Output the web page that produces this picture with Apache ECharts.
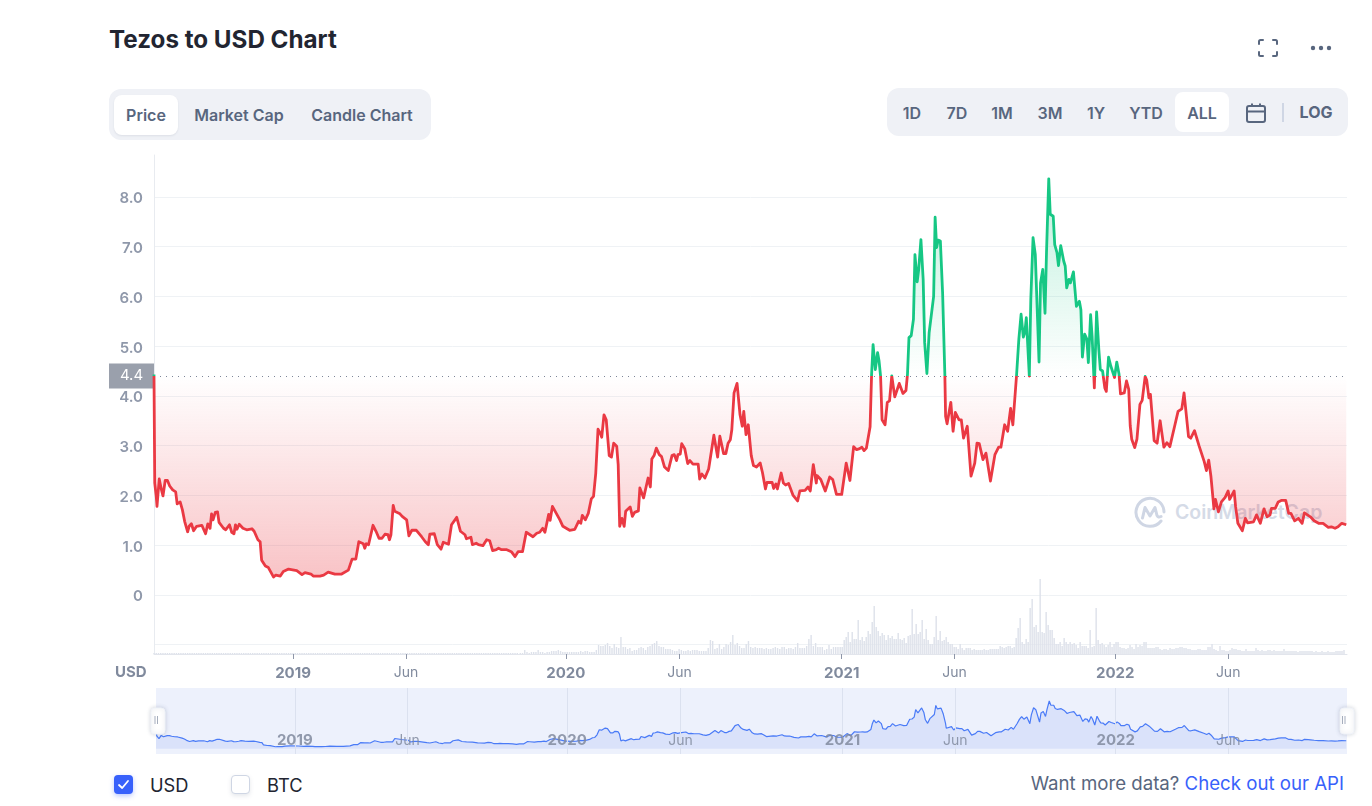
<!DOCTYPE html>
<html>
<head>
<meta charset="utf-8">
<script src="https://cdn.jsdelivr.net/npm/echarts@6/dist/echarts.min.js"></script>
<style>
html,body{margin:0;padding:0;background:#fff;width:1372px;height:806px;overflow:hidden;font-family:Inter,sans-serif;color:#58667e}
.a{position:absolute}
#chart{position:absolute;left:0;top:0;width:1372px;height:806px;z-index:2}
.title{left:109px;top:25px;font-size:24.200px;font-weight:700;line-height:30px;color:#222531;white-space:nowrap}
.panel{background:#eff1f6;border-radius:12px}
.btn{font-size:16px;font-weight:600;line-height:20px;transform:translateX(-50%);white-space:nowrap;color:#58667e}
.on{background:#fff;border-radius:8px;box-shadow:0 1px 2px rgba(88,102,126,.12)}
.lg{font-size:18.300px;line-height:22px;color:#222531;white-space:nowrap}
.box{width:19px;height:19px;border-radius:4px;box-sizing:border-box}
</style>
</head>
<body>
<div class="a title">Tezos to USD Chart</div>

<div class="a panel" style="left:109px;top:89px;width:322px;height:51px"></div>
<div class="a on" style="left:114px;top:95px;width:64px;height:40px"></div>
<div class="a btn" style="left:146px;top:105px">Price</div>
<div class="a btn" style="left:239px;top:105px">Market Cap</div>
<div class="a btn" style="left:362px;top:105px">Candle Chart</div>

<div class="a panel" style="left:887px;top:88px;width:461px;height:48px"></div>
<div class="a on" style="left:1175px;top:92px;width:54px;height:40px;box-shadow:none"></div>
<div class="a btn" style="left:912px;top:103px">1D</div>
<div class="a btn" style="left:957px;top:103px">7D</div>
<div class="a btn" style="left:1002px;top:103px">1M</div>
<div class="a btn" style="left:1050px;top:103px">3M</div>
<div class="a btn" style="left:1096px;top:103px">1Y</div>
<div class="a btn" style="left:1146px;top:103px">YTD</div>
<div class="a btn" style="left:1202px;top:103px">ALL</div>
<svg class="a" style="left:1245px;top:102px" width="22" height="22" viewBox="0 0 22 22" fill="none" stroke="#58667e" stroke-width="2">
<rect x="2" y="4" width="18" height="16" rx="2"/><path d="M2 9.5H20M7 1.5V5M15 1.5V5"/></svg>
<div class="a" style="left:1282px;top:103px;width:2px;height:19px;background:#cfd6e4"></div>
<div class="a btn" style="left:1316px;top:102px;font-weight:700">LOG</div>

<svg class="a" style="left:1257px;top:38px" width="22" height="20" viewBox="0 0 22 20" fill="none" stroke="#58667e" stroke-width="2" stroke-linecap="round">
<path d="M2 6V3.5A1.5 1.5 0 0 1 3.500 2H6M16 2H18.500A1.500 1.500 0 0 1 20 3.500V6M20 14V16.500A1.500 1.500 0 0 1 18.500 18H16M6 18H3.500A1.500 1.500 0 0 1 2 16.500V14"/></svg>
<svg class="a" style="left:1310px;top:44px" width="22" height="8" viewBox="0 0 22 8" fill="#58667e">
<circle cx="3" cy="4" r="2.200"/><circle cx="11" cy="4" r="2.200"/><circle cx="19" cy="4" r="2.200"/></svg>

<!-- watermark sits under the transparent chart canvas -->
<svg class="a" style="left:1134px;top:496px;z-index:1" width="32" height="32" viewBox="0 0 32 32" fill="none" stroke="#cfd6e4" stroke-width="3" stroke-linecap="round" stroke-linejoin="round">
<path d="M27 25A14 14 0 1 1 30 16"/><path d="M8.500 22L11 11.500L16 20L21 11.500L23 19.500Q24 22 27 20.500"/></svg>
<div class="a" style="left:1175px;top:499px;z-index:1;font-size:19.500px;line-height:26px;font-weight:600;color:#d5dbe7;white-space:nowrap">CoinMarketCap</div>

<div id="chart"></div>

<div class="a box" style="left:114px;top:775px;background:#3861fb;box-shadow:0 2px 5px rgba(56,97,251,.35);z-index:3">
<svg width="19" height="19" viewBox="0 0 19 19" fill="none" stroke="#fff" stroke-width="1.800" stroke-linecap="round" stroke-linejoin="round"><path d="M5 10L8.200 13L14 6"/></svg></div>
<div class="a lg" style="left:150px;top:774px">USD</div>
<div class="a box" style="left:231px;top:775px;background:#fff;border:1px solid #cfd6e4;box-shadow:0 2px 4px rgba(88,102,126,.15)"></div>
<div class="a lg" style="left:267px;top:774px">BTC</div>
<div class="a lg" style="right:28px;top:772px;color:#58667e;font-size:18.650px">Want more data? <span style="color:#3861fb">Check out our API</span></div>

<script>
// ---------- data ----------
const startDate = '2018-06-29';
const endDay = 1596;
const currentPrice = 4.4;
const yTickValues = [-1, 0, 1, 2, 3, 4, 5, 6, 7, 8];
const yLabelValues = [0, 1, 2, 3, 4, 5, 6, 7, 8];
const tickDates = ['2019-01-01','2019-06-01','2020-01-01','2020-06-01','2021-01-04','2021-06-04','2022-01-05','2022-06-05'];
const tickLabels = ['2019','Jun','2020','Jun','2021','Jun','2022','Jun'];

// days since startDate
const priceDays = [
0,1,3,4,7,10,12,15,18,21,25,29,31,35,38,41,45,47,50,53,57,64,69,72,75,77,79,82,85,87,93,96,101,104,107,109,111,114,119,124,131,134,139,142,144,149,153,160,163,169,173,180,191,198,202,210,213,222,227,233,242,251,260,265,270,274,280,282,284,287,293,297,301,305,309,313,315,317,320,322,329,332,338,341,345,351,358,363,367,369,375,379,384,387,394,398,405,410,416,418,424,426,431,434,436,440,445,449,453,458,461,465,472,478,483,487,493,498,501,507,512,516,520,523,528,530,533,
543,547,556,563,568,571,573,577,581,585,588,591,594,597,599,602,605,609,612,615,619,621,623,626,629,631,637,640,643,648,650,655,661,664,666,669,672,676,679,683,688,693,696,699,701,704,706,710,714,717,721,728,730,733,737,742,744,749,754,757,762,765,768,771,773,776,780,784,787,789,792,795,797,799,802,806,811,814,818,820,827,829,832,834,839,842,845,849,851,855,857,861,864,871,875,878,882,886,887,892,898,904,908,913,920,926,928,931,936,940,944,947,950,953,958,
960,962,965,968,970,972,974,978,981,984,987,991,997,1002,1006,1008,1010,1013,1016,1018,1021,1023,1026,1029,1031,1034,1037,1043,1045,1047,1049,1052,1055,1058,
1059,1061,1066,1069,1072,1077,1080,1083,1088,1093,1098,1101,1104,1109,1113,1119,1125,1130,1133,1138,1142,1146,1149,
1154,1157,1160,1163,1165,1167,1171,1173,1176,1179,1184,1186,1189,1192,1194,1197,1199,1203,1205,1208,1210,1213,1217,1219,1221,1224,1226,1230,1232,1234,1238,1240,1242,1245,1248,1250,1253,1255,1258,1261,1264,1266,1269,1272,1274,1277,1280,1285,1288,1291,1293,
1298,1301,1304,1306,1308,1312,1315,1319,1322,1326,1328,1331,1333,1338,1342,1346,1351,1355,1359,1366,1370,1375,1378,1384,1387,1392,1398,1400,1405,1408,1411,1414,1418,1420,1424,1428,1433,1437,1439,1445,1447,1450,1452,1456,1460,1463,1471,1475,1480,1485,1489,1493,1495,1500,1504,1508,1514,1518,1521,1526,1531,1536,1539,1544,1547,1552,1558,1564,1571,1575,1580,1584,1589,1595
];
const priceValues = [
4.43,2.25,1.98,1.78,2.33,2.11,1.99,2.30,2.30,2.19,2.11,2.07,1.83,1.87,1.71,1.48,1.27,1.38,1.43,1.29,1.38,1.40,1.23,1.43,1.34,1.63,1.51,1.66,1.67,1.46,1.34,1.31,1.41,1.26,1.23,1.41,1.32,1.42,1.34,1.31,1.33,1.28,1.11,1.07,0.70,0.58,0.55,0.36,0.40,0.38,0.47,0.52,0.49,0.41,0.45,0.42,0.38,0.38,0.40,0.46,0.42,0.42,0.50,0.72,0.72,1.07,1.03,0.94,1.03,1.01,1.40,1.28,1.14,1.14,1.22,1.21,1.11,1.21,1.80,1.68,1.63,1.58,1.51,1.19,1.30,1.30,1.17,1.07,1.01,1.22,1.23,1.01,0.92,1.06,1.02,1.41,1.56,1.28,1.21,1.13,1.16,1.01,1.04,1.01,1.04,0.99,1.11,1.09,0.89,0.91,0.94,0.91,0.91,0.87,0.77,0.87,0.87,1.26,1.23,1.17,1.24,1.26,1.34,1.26,1.62,1.50,1.78,
1.51,1.38,1.30,1.32,1.48,1.44,1.60,1.51,1.64,1.93,1.98,2.45,3.33,3.25,3.17,3.62,3.52,2.80,2.77,3.05,2.99,2.62,1.38,1.54,1.38,1.68,1.77,1.58,1.66,1.69,2.15,1.95,2.35,2.17,2.73,2.80,2.95,2.82,2.78,2.57,2.50,2.80,2.82,2.70,2.82,2.83,3.04,2.94,2.64,2.70,2.63,2.63,2.33,2.43,2.35,2.53,2.55,3.21,2.77,3.19,2.84,2.84,3.05,3.12,3.32,4.06,4.25,3.62,3.39,3.69,3.22,3.42,3.46,2.80,2.60,2.57,2.65,2.46,2.13,2.26,2.26,2.14,2.23,2.13,2.45,2.25,2.21,2.24,2.16,2.00,1.98,1.89,2.09,2.10,2.17,2.09,2.62,2.25,2.40,2.32,2.09,2.37,2.32,2.02,2.02,2.65,2.62,2.30,2.98,2.92,2.94,2.97,2.90,2.95,3.38,
4.43,5.03,4.53,4.87,4.70,4.40,3.52,3.42,3.87,3.90,4.40,3.98,4.25,4.05,4.11,4.43,5.17,5.21,5.54,6.84,6.29,6.54,7.14,6.34,5.07,4.45,5.27,6.00,7.59,6.98,7.13,7.11,6.07,4.43,
3.59,3.44,3.87,3.29,3.67,3.52,3.52,3.15,3.39,2.39,2.65,3.05,3.04,2.72,2.85,2.29,2.82,2.97,2.97,3.42,3.29,3.75,3.42,
4.43,5.14,5.64,5.18,5.27,5.57,4.40,5.94,7.18,6.84,4.68,6.27,6.54,5.66,6.88,8.36,7.65,7.61,7.04,6.88,6.62,7.02,6.71,6.61,6.17,6.34,6.27,6.49,6.49,5.80,5.90,5.73,4.78,5.24,5.14,4.67,5.63,5.20,4.16,5.69,4.93,4.53,4.50,4.16,4.09,4.78,4.60,4.37,4.68,4.44,4.04,
4.06,4.30,4.13,3.40,3.13,2.96,3.13,3.83,3.91,4.39,4.32,3.96,4.03,3.10,3.05,3.50,2.97,3.06,2.98,3.43,3.69,3.74,4.06,3.18,3.15,3.30,3.00,2.98,2.68,2.50,2.71,2.38,1.73,1.92,1.67,1.87,1.96,2.09,1.92,2.09,1.77,1.44,1.39,1.29,1.54,1.45,1.47,1.61,1.44,1.73,1.57,1.61,1.74,1.74,1.87,1.90,1.90,1.64,1.64,1.49,1.54,1.44,1.65,1.60,1.57,1.49,1.44,1.44,1.36,1.37,1.34,1.37,1.44,1.41
];

// volume, in chart-scale units; each run gives its first day, its spacing in days, and its bars
const volumeEarly = [
1,1,1,1,1,1,1,1,1,1,1,1,1,1,1,1,1,1,1,1,1,1,1,1,1,1,1,1,1,1,1,1,1,1,1,1,1,1,1,1,
1,1,1,1,1,1,1,1,1,1,1,1,1,1,1,1,1,1,1,1,1,1,1,1,1,1,1,1,1,1,1,1,1,1,1,1,1,1,1,1,
1,1,1,1,1,1,1,1,1,1,1,1,1,1,1,1,1,1,1,1,1,1,1,1,1,1,1,1,1,1,1,1,1,1,1,1,1,1,1,1,
1,1,1,1,1,1,1,1,1,1,1,1,1,1,1,1,1,1,1,1,1,1,1,1,1,1,1,1,1,1,1,1,1,1,1,1,1,1,1,1,1,1,1];
const volumeMiddle = [
1,1,4,2,1,2,2,2,4,2,2,1,2,2,3,3,3,4,3,2,2,2,2,2,2,2,2,3,2,3,3,2,2,2,4,
9,8,8,9,11,8,6,10,7,6,17,7,7,5,6,3,4,4,6,7,6,4,7,8,10,11,13,8,7,7,5,5,5,4,3,3,5,4,3,3,4,3,4,4,4,3,3,3,3,6,14,13,5,6,10,5,7,10,9,12,19,9,11,8,6,6,10,13,7,6,7,6,6,6,5,6,5,5,6,7,6,5,7,7,5,6,6,5,7,11,6,6,6,8,15,19,8,11,7,7,7,4,5,9,5,7,7,7];
const volumePeak = [
7,7,14,17,22,12,22,15,15,34,14,17,13,17,23,20,32,48,27,23,18,21,19,14,19,16,18,15,15,21,15,14,16,11,18,19,45,20,30,20,22,34,15,25,14,10,10,17,38,14,23,13,14,17,12,10,10,7,7,5,10,6,4,6,6,6,4,5,4,4,4,4,5,4,4,5,5,5,5,5,8,7,6,7,8,8,6,7,16,26,36,12,10,15,12,46,55,27,29,22,75,22,21,42,29,24,24,16,10,10,12,8,16,12,10,12,10,11,9,6,12,8,8,8,6,24,7,8,46,14,10,11,9,7,9];
const volumeLate = [
12,7,10,12,12,7,6,6,5,6,9,7,5,10,7,9,8,12,12,6,6,6,6,7,7,5,4,5,5,4,6,5,5,6,6,7,7,6,6,5,5,4,4,4,5,5,4,4,4,7,7,10,5,4,3,8,4,4,3,3,4,6,5,5,4,4,3,3,5,3,3,3,3,6,4,3,4,3,3,4,4,3,4,3,3,3,3,5,3,3,3,3,3,3,2,3,3,3,3,3,3,3,2,3,2,2,3,2,2,3,2,2,2,3,3,3,3,4];
const volumeRuns = [
 {start: 0, step: 3, bars: volumeEarly},
 {start: 490, step: 2.993, bars: volumeMiddle},
 {start: 918, step: 2.675, bars: volumePeak},
 {start: 1279, step: 2.675, bars: volumeLate}
];

// ---------- styles ----------
const DAY = 86400000;
const t0 = Date.parse(startDate + 'T00:00:00Z');
const font = 'Inter';
const tickTimes = tickDates.map(d => Date.parse(d + 'T00:00:00Z'));
const priceSeries = priceDays.map((d, i) => [t0 + d * DAY, priceValues[i]]);
const volumeSeries = volumeRuns.flatMap(r => r.bars.map((v, i) => [t0 + (r.start + i * r.step) * DAY, v]));
const pMax = Math.max(...priceValues), pMin = Math.min(...priceValues);
const split = (pMax - currentPrice) / (pMax - pMin);

const labelFmt = v => {
  const i = tickTimes.indexOf(v);
  if (i < 0) return '';
  return tickLabels[i] === 'Jun' ? '{m|Jun}' : '{y|' + tickLabels[i] + '}';
};
const labelRich = a => ({
  y: {fontFamily: font, fontSize: 15, fontWeight: 700, color: 'rgba(128,138,157,' + a + ')'},
  m: {fontFamily: font, fontSize: 14, fontWeight: 400, color: 'rgba(128,138,157,' + a + ')'}
});

const option = {
  animation: false,
  useUTC: true,
  backgroundColor: 'transparent',
  grid: [
    {left: 154, top: 155, width: 1193, height: 499, show: false},
    {left: 156, top: 688, width: 1191, height: 66, show: true, backgroundColor: '#edf1fc', borderWidth: 0}
  ],
  xAxis: [
    {type: 'value', gridIndex: 0, min: t0, max: t0 + endDay * DAY, scale: true,
     axisLine: {show: true, onZero: false, lineStyle: {color: '#e2e5ec', width: 1}},
     axisTick: {show: true, length: 5, customValues: tickTimes, lineStyle: {color: '#8e96a8', width: 1}},
     splitLine: {show: false},
     axisLabel: {customValues: tickTimes, formatter: labelFmt, rich: labelRich(1), margin: 12, hideOverlap: false}},
    {type: 'value', gridIndex: 1, min: t0, max: t0 + endDay * DAY, scale: true, z: 10,
     axisLine: {show: false, onZero: false},
     axisTick: {show: false, customValues: tickTimes},
     splitLine: {show: true, lineStyle: {color: '#dbe1ef', width: 1}},
     axisLabel: {inside: true, customValues: tickTimes, formatter: labelFmt, rich: labelRich(0.85), margin: 6, hideOverlap: false}}
  ],
  yAxis: [
    {type: 'value', gridIndex: 0, min: -1.186, max: 8.84,
     axisLine: {show: true, onZero: false, lineStyle: {color: '#e8ebf0', width: 1}},
     axisTick: {show: false, customValues: yTickValues},
     splitLine: {show: true, lineStyle: {color: '#eff2f5', width: 1}},
     axisLabel: {customValues: yLabelValues, margin: 11, fontFamily: font, fontSize: 15, fontWeight: 600, color: '#8f98aa', verticalAlign: 'top', lineHeight: 4,
                 formatter: v => v === 0 ? '0' : v.toFixed(1)}},
    {type: 'value', gridIndex: 0, min: 0, max: 499, show: false, splitLine: {show: false}},
    {type: 'value', gridIndex: 1, min: -0.91, max: 10.63, show: false, splitLine: {show: false}}
  ],
  visualMap: {
    show: false, type: 'piecewise', seriesIndex: 0, dimension: 1,
    pieces: [{gte: -10, lte: currentPrice, color: '#ea3943'}, {gt: currentPrice, lte: 20, color: '#16c784'}]
  },
  dataZoom: [{
    type: 'slider', xAxisIndex: 0, left: 156, width: 1191, top: 688, height: 66,
    start: 0, end: 100, showDetail: false, showDataShadow: false, brushSelect: false,
    moveHandleSize: 0, backgroundColor: 'transparent', fillerColor: 'transparent', borderColor: 'transparent',
    handleIcon: 'path://M4 0H10A4 4 0 0 1 14 4V22A4 4 0 0 1 10 26H4A4 4 0 0 1 0 22V4A4 4 0 0 1 4 0Z',
    handleSize: 26,
    handleStyle: {color: '#fff', borderColor: '#f0f3f9', borderWidth: 1, shadowBlur: 4, shadowColor: 'rgba(88,102,126,.25)'},
    z: 20
  }],
  graphic: [
    {type: 'text', left: 115, top: 665, style: {text: 'USD', fontFamily: font, fontSize: 15, fontWeight: 700, fill: '#808a9d'}, silent: true},
    {type: 'rect', x: 154.5, y: 716, shape: {width: 1, height: 8}, style: {fill: '#a6aebd'}, z: 30, zlevel: 1, silent: true},
    {type: 'rect', x: 157, y: 716, shape: {width: 1, height: 8}, style: {fill: '#a6aebd'}, z: 30, zlevel: 1, silent: true},
    {type: 'rect', x: 1342, y: 716, shape: {width: 1, height: 8}, style: {fill: '#a6aebd'}, z: 30, zlevel: 1, silent: true},
    {type: 'rect', x: 1344.5, y: 716, shape: {width: 1, height: 8}, style: {fill: '#a6aebd'}, z: 30, zlevel: 1, silent: true}
  ],
  series: [
    {type: 'line', name: 'Price', xAxisIndex: 0, yAxisIndex: 0, data: priceSeries, symbol: 'none', showSymbol: false,
     lineStyle: {width: 2.8, join: 'round'}, z: 5,
     areaStyle: {
       origin: currentPrice, opacity: 1,
       color: {type: 'linear', x: 0, y: 0, x2: 0, y2: 1, colorStops: [
         {offset: 0, color: 'rgba(22,199,132,0.28)'},
         {offset: split, color: 'rgba(22,199,132,0)'},
         {offset: split, color: 'rgba(234,57,67,0)'},
         {offset: 1, color: 'rgba(234,57,67,0.3)'}
       ]}
     },
     markLine: {
       silent: true, symbol: 'none', animation: false,
       lineStyle: {type: [1, 5], color: '#7d8698', width: 1},
       label: {position: 'start', distance: 0, offset: [-22.5, 0], formatter: '{b}', color: '#fff', backgroundColor: '#9aa0ac',
               fontFamily: font, fontSize: 15, width: 45, height: 25, lineHeight: 25, align: 'center'},
       data: [{yAxis: currentPrice, name: String(currentPrice)}]
     }},
    {type: 'bar', name: 'Volume', xAxisIndex: 0, yAxisIndex: 1, data: volumeSeries, barWidth: 1.4,
     itemStyle: {color: '#dde1ea'}, z: 2, large: false},
    {type: 'line', name: 'Navigator', xAxisIndex: 1, yAxisIndex: 2, data: priceSeries, symbol: 'none', showSymbol: false,
     lineStyle: {width: 1.2, color: '#4a7bf7'}, areaStyle: {color: '#dae2fa', opacity: 1}, z: 3}
  ]
};
const chart = echarts.init(document.getElementById('chart'), null, {renderer: 'canvas', width: 1372, height: 806});
chart.setOption(option);
</script>
</body>
</html>
